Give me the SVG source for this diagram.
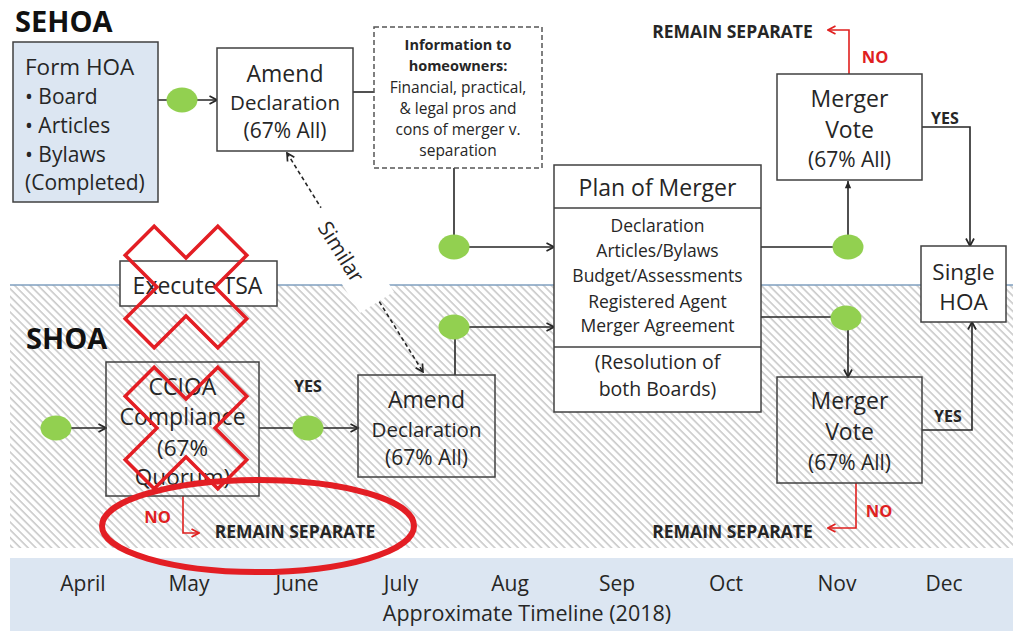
<svg xmlns="http://www.w3.org/2000/svg" width="1013" height="631" viewBox="0 0 1013 631">
<style>
text{font-family:"Open Sans","Liberation Sans",sans-serif;fill:#262626}
.c{text-anchor:middle}
.b{font-weight:700}
.red{fill:#e0201f}
.box{stroke:#404040;stroke-width:1.5}
.ln{fill:none;stroke:#262626;stroke-width:1.6}
.rl{fill:none;stroke:#e0201f;stroke-width:1.6}
.dot{fill:#92d050}
.x{fill:none;stroke:#e31e24;stroke-width:3.5}
</style>
<defs>
<pattern id="hatch" width="5.5" height="5.5" patternUnits="userSpaceOnUse" patternTransform="rotate(-45)">
<line x1="1" y1="0" x2="1" y2="5.5" stroke="#bcbcbc" stroke-width="1.3"/>
</pattern>
<marker id="arr" viewBox="0 0 10 10" refX="9" refY="5" markerWidth="10" markerHeight="10" markerUnits="userSpaceOnUse" orient="auto-start-reverse">
<path d="M1.5,1 L9,5 L1.5,9" fill="none" stroke="#262626" stroke-width="1.7"/>
</marker>
<marker id="arrf" viewBox="0 0 10 10" refX="9" refY="5" markerWidth="9" markerHeight="9" markerUnits="userSpaceOnUse" orient="auto">
<path d="M1,1.5 L9,5 L1,8.5 z" fill="#262626"/>
</marker>
<marker id="arrr" viewBox="0 0 10 10" refX="9" refY="5" markerWidth="10" markerHeight="10" markerUnits="userSpaceOnUse" orient="auto">
<path d="M1.5,1 L9,5 L1.5,9" fill="none" stroke="#e0201f" stroke-width="1.7"/>
</marker>
<polygon id="xshape" points="-20.5,-65.5 20.5,-65.5 20.5,-20.5 65.5,-20.5 65.5,20.5 20.5,20.5 20.5,65.5 -20.5,65.5 -20.5,20.5 -65.5,20.5 -65.5,-20.5 -20.5,-20.5"/>
</defs>

<rect x="0" y="0" width="1013" height="631" fill="#ffffff"/>
<g id="background">
<rect x="10" y="285" width="1003" height="263" fill="url(#hatch)"/>
<line x1="10" y1="285" x2="1013" y2="285" stroke="#7f9fbf" stroke-width="1.5"/>
<rect x="10" y="558" width="1003" height="73" fill="#dce6f2"/>
</g>

<text x="15" y="32" class="b" font-size="29" style="fill:#111">SEHOA</text>
<text x="26" y="349" class="b" font-size="29" style="fill:#111">SHOA</text>

<g id="connectors">
<path class="ln" d="M158,100 L217,100" marker-end="url(#arr)"/>
<path class="ln" d="M353,92 L374,92"/>
<path class="ln" d="M454,168 L454,247 L554,247" marker-end="url(#arr)"/>
<path class="ln" d="M455,375 L455,327 L554,327" marker-end="url(#arr)"/>
<path class="ln" d="M55,428 L106,428" marker-end="url(#arr)"/>
<path class="ln" d="M259,428 L358,428" marker-end="url(#arr)"/>
<path class="ln" d="M761,247 L848,247 L848,181" marker-end="url(#arrf)"/>
<path class="ln" d="M761,317 L848,317 L848,377" marker-end="url(#arr)"/>
<path class="ln" d="M922,127 L970,127 L970,246" marker-end="url(#arr)"/>
<path class="ln" d="M922,430 L972,430 L972,322" marker-end="url(#arr)"/>
<path class="rl" d="M849,74 L849,30 L828,30" marker-end="url(#arrr)"/>
<path class="rl" d="M856,483 L856,528 L828,528" marker-end="url(#arrr)"/>
<path class="rl" d="M183,496 L183,533 L199,533" marker-end="url(#arrr)"/>
<path class="ln" d="M287,153 L423,372" stroke-dasharray="4,3" stroke-width="1.3" marker-start="url(#arr)" marker-end="url(#arr)"/>
<ellipse class="dot" cx="182" cy="100" rx="15.5" ry="12.5"/>
<ellipse class="dot" cx="454" cy="247" rx="15.5" ry="12.5"/>
<ellipse class="dot" cx="454" cy="327" rx="15.5" ry="12.5"/>
<ellipse class="dot" cx="848" cy="247" rx="15.5" ry="12.5"/>
<ellipse class="dot" cx="846" cy="318" rx="15.5" ry="12.5"/>
<ellipse class="dot" cx="56" cy="428" rx="15.5" ry="12.5"/>
<ellipse class="dot" cx="308" cy="428" rx="15.5" ry="12.5"/>
<text x="308" y="392" class="c b" font-size="16">YES</text>
<text x="945" y="124" class="c b" font-size="16">YES</text>
<text x="948" y="422" class="c b" font-size="16">YES</text>
<text x="875" y="63" class="c b red" font-size="16.5">NO</text>
<text x="879" y="517" class="c b red" font-size="16.5">NO</text>
<text x="157.5" y="523" class="c b red" font-size="16.5">NO</text>
<text x="732.5" y="38" class="c b" font-size="17.5">REMAIN SEPARATE</text>
<text x="732.5" y="538" class="c b" font-size="17.5">REMAIN SEPARATE</text>
<text x="295" y="538" class="c b" font-size="17.5">REMAIN SEPARATE</text>
</g>

<g id="similar-label" transform="translate(360,313) rotate(-32)">
<rect x="0" y="-110" width="40" height="110" fill="#ffffff"/>
<text transform="translate(9,-62) rotate(90)" class="c" font-size="21">Similar</text>
</g>

<g id="form-hoa">
<rect class="box" x="13" y="42" width="145" height="160" fill="#dce6f2"/>
<text x="25" y="75" font-size="22.5">Form HOA</text>
<text x="25" y="104" font-size="21">• Board</text>
<text x="25" y="133" font-size="21">• Articles</text>
<text x="25" y="162" font-size="21">• Bylaws</text>
<text x="25" y="190" font-size="21">(Completed)</text>
</g>

<g id="amend-top">
<rect class="box" x="217" y="48" width="136" height="103" fill="#ffffff"/>
<text x="285" y="82" class="c" font-size="23">Amend</text>
<text x="285" y="110" class="c" font-size="20.5">Declaration</text>
<text x="285" y="138" class="c" font-size="21">(67% All)</text>
</g>

<g id="info">
<rect x="374" y="27" width="168" height="141" fill="#ffffff" stroke="#555" stroke-width="1.5" stroke-dasharray="5,3"/>
<text x="458" y="50" class="c b" font-size="14.5">Information to</text>
<text x="458" y="71" class="c b" font-size="14.5">homeowners:</text>
<text x="458" y="93" class="c" font-size="15.5">Financial, practical,</text>
<text x="458" y="114" class="c" font-size="15.5">&amp; legal pros and</text>
<text x="458" y="135" class="c" font-size="15.5">cons of merger v.</text>
<text x="458" y="156" class="c" font-size="15.5">separation</text>
</g>

<g id="plan">
<rect class="box" x="554" y="165" width="207" height="247" fill="#ffffff"/>
<line class="box" x1="554" y1="208" x2="761" y2="208"/>
<line class="box" x1="554" y1="347" x2="761" y2="347"/>
<text x="657.5" y="196" class="c" font-size="23">Plan of Merger</text>
<text x="657.5" y="232" class="c" font-size="17.5">Declaration</text>
<text x="657.5" y="257" class="c" font-size="17.5">Articles/Bylaws</text>
<text x="657.5" y="282" class="c" font-size="17.5">Budget/Assessments</text>
<text x="657.5" y="308" class="c" font-size="17.5">Registered Agent</text>
<text x="657.5" y="332" class="c" font-size="17.5">Merger Agreement</text>
<text x="657.5" y="369" class="c" font-size="19.5">(Resolution of</text>
<text x="657.5" y="396" class="c" font-size="19.5">both Boards)</text>
</g>

<g id="merger-top">
<rect class="box" x="777" y="74" width="145" height="106" fill="#ffffff"/>
<text x="849.5" y="107" class="c" font-size="23">Merger</text>
<text x="849.5" y="138" class="c" font-size="23">Vote</text>
<text x="849.5" y="167" class="c" font-size="21">(67% All)</text>
</g>

<g id="merger-bottom">
<rect class="box" x="777" y="377" width="145" height="106" fill="none"/>
<text x="849.5" y="409" class="c" font-size="23">Merger</text>
<text x="849.5" y="440" class="c" font-size="23">Vote</text>
<text x="849.5" y="470" class="c" font-size="21">(67% All)</text>
</g>

<g id="single-hoa">
<rect class="box" x="921" y="246" width="85" height="76" fill="#ffffff"/>
<text x="963.5" y="280" class="c" font-size="22.5">Single</text>
<text x="963.5" y="310" class="c" font-size="22.5">HOA</text>
</g>

<g id="execute-tsa">
<rect class="box" x="120" y="261" width="157" height="45" fill="#ffffff"/>
<text x="197.5" y="294" class="c" font-size="23">Execute TSA</text>
</g>

<g id="ccioa">
<rect class="box" x="106" y="362" width="153" height="134" fill="none"/>
<text x="182.5" y="395" class="c" font-size="23">CCIOA</text>
<text x="182.5" y="425" class="c" font-size="23">Compliance</text>
<text x="182.5" y="456" class="c" font-size="22.5">(67%</text>
<text x="182.5" y="485" class="c" font-size="22.5">Quorum)</text>
</g>

<g id="amend-bottom">
<rect class="box" x="358" y="375" width="137" height="102" fill="none"/>
<text x="426.5" y="408" class="c" font-size="23">Amend</text>
<text x="426.5" y="437" class="c" font-size="20.5">Declaration</text>
<text x="426.5" y="465" class="c" font-size="21">(67% All)</text>
</g>

<g id="cross-marks">
<use href="#xshape" class="x" transform="translate(186,287) rotate(45)"/>
<use href="#xshape" class="x" transform="translate(186,428) rotate(45)"/>
<ellipse cx="258" cy="526" rx="156" ry="46" fill="none" stroke="#e31e24" stroke-width="6"/>
</g>

<g id="timeline">
<text x="83" y="591" class="c" font-size="21">April</text>
<text x="189" y="591" class="c" font-size="21">May</text>
<text x="297" y="591" class="c" font-size="21">June</text>
<text x="401" y="591" class="c" font-size="21">July</text>
<text x="510" y="591" class="c" font-size="21">Aug</text>
<text x="617" y="591" class="c" font-size="21">Sep</text>
<text x="726" y="591" class="c" font-size="21">Oct</text>
<text x="837" y="591" class="c" font-size="21">Nov</text>
<text x="944" y="591" class="c" font-size="21">Dec</text>
<text x="527" y="621" class="c" font-size="21.5">Approximate Timeline (2018)</text>
</g>
</svg>
